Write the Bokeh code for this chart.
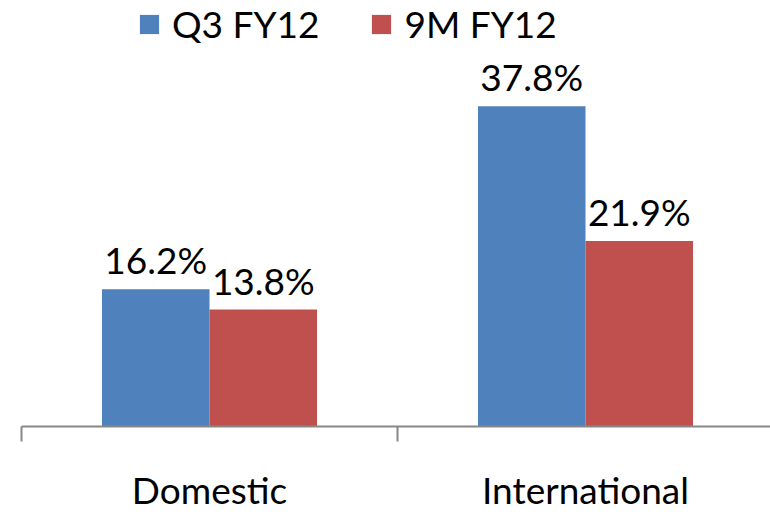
from bokeh.plotting import figure
from bokeh.models import FixedTicker, Range1d, Legend, LegendItem, ColumnDataSource
from bokeh.embed import file_html
from bokeh.resources import INLINE
from bokeh.core.properties import value

categories = ["Domestic", "International"]
series_names = ["Q3 FY12", "9M FY12"]
q3_fy12 = [16.2, 37.8]
m9_fy12 = [13.8, 21.9]
label_q3 = ["16.2%", "37.8%"]
label_m9 = ["13.8%", "21.9%"]

BLUE = "#4F81BD"
RED = "#C0504D"
FONT = "Lato"

W, H = 770, 514
left, bottom = 21, 84
p = figure(width=W, height=H, output_backend="svg", toolbar_location=None,
           x_range=Range1d(0, (W - left) / 376.0), y_range=Range1d(0, 430 / 8.55),
           min_border_left=left, min_border_right=0, min_border_top=0, min_border_bottom=bottom)
p.outline_line_color = None
p.grid.visible = False
p.yaxis.visible = False
p.background_fill_color = "white"
p.border_fill_color = "white"

bw = 0.286
off = 0.143
xc = [i + 0.5 for i in range(len(categories))]
src = ColumnDataSource(dict(
    xq=[x - off for x in xc], xm=[x + off for x in xc],
    q=q3_fy12, m=m9_fy12, lq=label_q3, lm=label_m9))

r1 = p.vbar(x="xq", top="q", width=bw, bottom=0, source=src, fill_color=BLUE, line_color=None)
r2 = p.vbar(x="xm", top="m", width=bw, bottom=0, source=src, fill_color=RED, line_color=None)

for xcol, ycol, lcol in (("xq", "q", "lq"), ("xm", "m", "lm")):
    p.text(x=xcol, y=ycol, text=lcol, source=src, text_align="center", text_baseline="bottom",
           y_offset=-7, text_font=value(FONT), text_font_size="37px", text_color="black")

ax = p.xaxis[0]
ax.ticker = FixedTicker(ticks=xc, minor_ticks=[0, 1, 2])
ax.major_label_overrides = {x: c for x, c in zip(xc, categories)}
ax.major_tick_out = 0
ax.major_tick_in = 0
ax.minor_tick_out = 15
ax.minor_tick_in = 0
ax.axis_line_color = "#878787"
ax.axis_line_width = 2
ax.minor_tick_line_color = "#878787"
ax.minor_tick_line_width = 2
ax.major_label_text_font = FONT
ax.major_label_text_font_size = "37px"
ax.major_label_text_color = "black"
ax.major_label_standoff = 25

legend = Legend(items=[LegendItem(label=series_names[0], renderers=[r1]),
                       LegendItem(label=series_names[1], renderers=[r2])],
                orientation="horizontal", location=(116, 380),
                border_line_color=None, background_fill_alpha=0,
                glyph_width=24, glyph_height=24, label_standoff=11, spacing=50,
                padding=0, margin=0,
                label_text_font=FONT, label_text_font_size="37px", label_text_color="black",
                label_height=24)
p.add_layout(legend, "center")

open("out.html", "w").write(file_html(p, INLINE))
